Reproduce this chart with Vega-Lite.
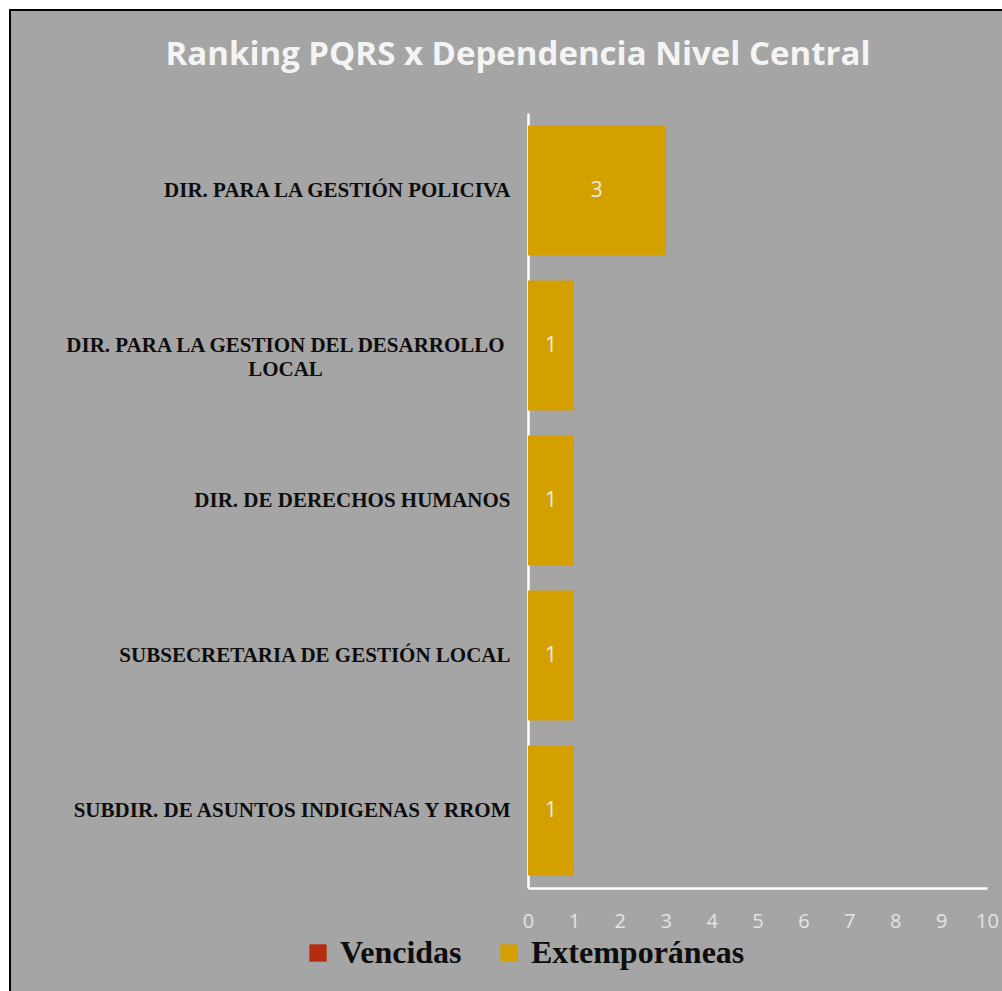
{
  "$schema": "https://vega.github.io/schema/vega-lite/v6.json",
  "width": 1000,
  "height": 990,
  "autosize": {"type": "none"},
  "padding": {"left": 10, "top": 10, "right": 0, "bottom": 0},
  "background": "white",
  "config": {"view": {"fill": "#a5a5a5", "stroke": "#000000", "strokeWidth": 2}},
  "title": {
    "text": "Ranking PQRS x Dependencia Nivel Central",
    "font": "Open Sans",
    "fontSize": 33,
    "fontWeight": "bold",
    "color": "#f4f4f4",
    "anchor": "middle",
    "offset": -62,
    "dx": 8
  },
  "data": {
    "values": [
      {"dep": "DIR. PARA LA GESTIÓN POLICIVA", "tipo": "Extemporáneas", "value": 3},
      {"dep": "DIR. PARA LA GESTION DEL DESARROLLO LOCAL", "tipo": "Extemporáneas", "value": 1},
      {"dep": "DIR. DE DERECHOS HUMANOS", "tipo": "Extemporáneas", "value": 1},
      {"dep": "SUBSECRETARIA DE GESTIÓN LOCAL", "tipo": "Extemporáneas", "value": 1},
      {"dep": "SUBDIR. DE ASUNTOS INDIGENAS Y RROM", "tipo": "Extemporáneas", "value": 1}
    ]
  },
  "encoding": {
    "y": {
      "field": "dep",
      "type": "nominal",
      "sort": null,
      "scale": {"range": [103, 878], "paddingInner": 0.16, "paddingOuter": 0.08},
      "axis": {
        "title": null,
        "offset": -518,
        "domainColor": "#ffffff",
        "domainWidth": 2.5,
        "ticks": false,
        "tickSize": 0,
        "grid": false,
        "labelFont": "Liberation Serif",
        "labelFontWeight": "bold",
        "labelFontSize": 21,
        "labelColor": "#0d0d0d",
        "labelLimit": 0,
        "labelLineHeight": 24,
        "labelBaseline": "middle",
        "labelExpr": "datum.value === 'DIR. PARA LA GESTION DEL DESARROLLO LOCAL' ? ['DIR. PARA LA GESTION DEL DESARROLLO', 'LOCAL'] : datum.label",
        "labelAlign": {"condition": {"test": "datum.value === 'DIR. PARA LA GESTION DEL DESARROLLO LOCAL'", "value": "center"}, "value": "right"},
        "labelPadding": {"condition": {"test": "datum.value === 'DIR. PARA LA GESTION DEL DESARROLLO LOCAL'", "value": 243}, "value": 18}
      }
    }
  },
  "layer": [
    {
      "mark": {"type": "bar"},
      "encoding": {
        "x": {
          "field": "value",
          "type": "quantitative",
          "scale": {"domain": [0, 10], "range": [518, 977], "nice": false},
          "axis": {
            "title": null,
            "orient": "bottom",
            "offset": -112,
            "domainColor": "#ffffff",
            "domainWidth": 2.5,
            "ticks": false,
            "tickSize": 0,
            "grid": false,
            "values": [0, 1, 2, 3, 4, 5, 6, 7, 8, 9, 10],
            "format": "d",
            "labelFont": "Open Sans",
            "labelFontSize": 20,
            "labelColor": "#e4e4e4",
            "labelPadding": 23,
            "labelFlush": false
          }
        },
        "color": {
          "field": "tipo",
          "type": "nominal",
          "scale": {"domain": ["Vencidas", "Extemporáneas"], "range": ["#b32d0e", "#d4a000"]},
          "legend": {
            "title": null,
            "orient": "none",
            "legendX": 292,
            "legendY": 927,
            "direction": "horizontal",
            "symbolType": "square",
            "symbolSize": 300,
            "symbolStrokeWidth": 0,
            "labelFont": "Liberation Serif",
            "labelFontWeight": "bold",
            "labelFontSize": 32,
            "labelColor": "#0d0d0d",
            "labelOffset": 6,
            "columnPadding": 31,
            "labelLimit": 0,
            "padding": 0
          }
        }
      }
    },
    {
      "mark": {"type": "text", "font": "Open Sans", "fontSize": 21, "color": "#ececec"},
      "encoding": {
        "x": {
          "field": "value",
          "type": "quantitative",
          "scale": {"domain": [0, 20], "range": [518, 977], "nice": false},
          "axis": null
        },
        "text": {"field": "value", "type": "quantitative"}
      }
    }
  ],
  "resolve": {"scale": {"x": "independent"}, "axis": {"x": "independent"}}
}
